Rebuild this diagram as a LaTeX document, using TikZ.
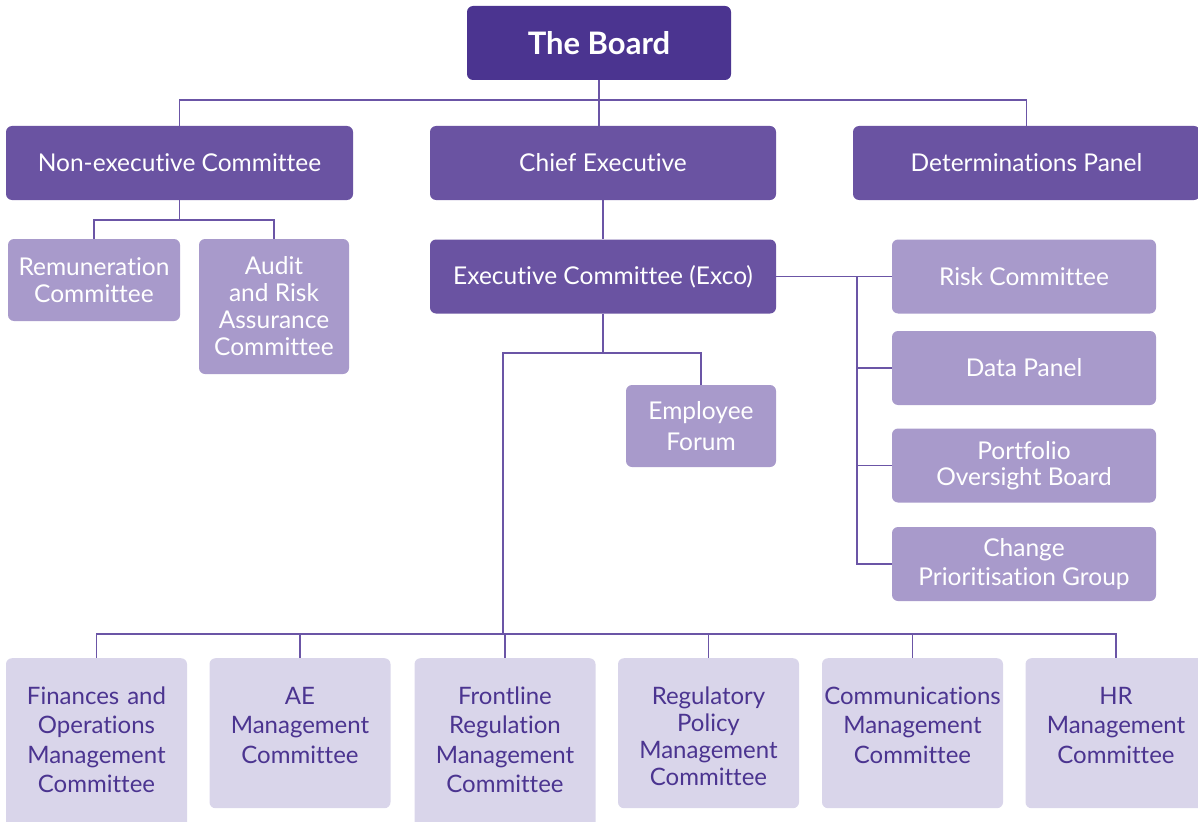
\documentclass[tikz,border=0pt]{standalone}
\usepackage{fontspec}
\setmainfont{Lato}[Ligatures=NoCommon]
\usetikzlibrary{calc}

\definecolor{boardpurple}{HTML}{4B3490}
\definecolor{midpurple}{HTML}{6A53A2}
\definecolor{lightpurple}{HTML}{A89ACB}
\definecolor{palepurple}{HTML}{D9D5EA}
\definecolor{linepurple}{HTML}{6B55A6}

\begin{document}
\begin{tikzpicture} [x=1pt, y=-1pt,
		% define styles
		boardnodestyle/.style={
			% The shape:
			rectangle,
			% The size:
			minimum width=264pt, minimum height=74pt,
			% The filling:
			fill=boardpurple,
			% Corners
			rounded corners=6pt,
			% Font
			text=white,
			font=\fontsize{31}{36}\selectfont\bfseries
		},
		topnodestyle/.style={
			% The shape:
			rectangle,
			% The size:
			minimum width=346pt, minimum height=74pt,
			% The filling:
			fill=midpurple,
			% Corners
			rounded corners=6pt,
			% Font
			text=white,
			font=\fontsize{24.5}{27}\selectfont
		},
		subnodestyle/.style={
			% The shape:
			rectangle,
			% The size:
			minimum height=74pt,
			inner sep=1pt,
			align=center,
			% The filling:
			fill=lightpurple,
			% Corners
			rounded corners=6pt,
			% Font
			text=white,
			font=\fontsize{24.5}{27}\selectfont
		},
		mgmtnodestyle/.style={
			% The shape:
			rectangle,
			anchor=north,
			% The size:
			minimum width=181pt,
			text width=181pt,
			inner sep=0pt,
			text height=46pt, % first line sits at the same height in every box
			text depth=104pt,
			align=center,
			% The filling:
			fill=palepurple,
			% Corners
			rounded corners=6pt,
			% Font
			text=boardpurple,
			font=\fontsize{24}{29.5}\selectfont
		},
		connector/.style={
			-,
			% Thickness
			line width=1.5pt,
			% Color
			linepurple
		}]
		% end of style definition

		\clip (0,0) rectangle (1198,821);

		% draw nodes
		\node (iBoard) [boardnodestyle] at (599,43) {The Board};

		\node (iNonExec) [topnodestyle, minimum width=347pt] at (179.5,163) {Non-executive Committee};
		\node (iChief) [topnodestyle] at (603,163) {Chief Executive};
		\node (iDeterm) [topnodestyle, minimum width=347pt] at (1026.5,163) {Determinations Panel};

		\node (iRemun) [subnodestyle, minimum width=172pt, minimum height=82pt] at (94,280) {Remuneration\\Committee};
		\node (iAudit) [subnodestyle, minimum width=150pt, minimum height=135pt] at (274,306.5) {Audit\\and Risk\\Assurance\\Committee};

		\node (iExco) [topnodestyle] at (603,276.5) {Executive Committee (Exco)};
		\node (iEmployee) [subnodestyle, minimum width=150pt, minimum height=82pt, font=\fontsize{24.5}{31}\selectfont] at (701,426) {Employee\\Forum};

		\node (iRisk) [subnodestyle, minimum width=264pt] at (1024,276.5) {Risk Committee};
		\node (iData) [subnodestyle, minimum width=264pt] at (1024,368) {Data Panel};
		\node (iPortfolio) [subnodestyle, minimum width=264pt, font=\fontsize{24.5}{26}\selectfont] at (1024,465.5) {Portfolio\\Oversight Board};
		\node (iChange) [subnodestyle, minimum width=264pt, font=\fontsize{24.5}{29}\selectfont] at (1024,564) {Change\\Prioritisation Group};

		\node (iFinance) [mgmtnodestyle, text depth=126pt] at (96.5,658) {Finances and\\Operations\\Management\\Committee};
		\node (iAE) [mgmtnodestyle] at (300,658) {AE\\Management\\Committee};
		\node (iFrontline) [mgmtnodestyle, text depth=126pt] at (505,658) {Frontline\\Regulation\\Management\\Committee};
		\node (iRegPolicy) [mgmtnodestyle, font=\fontsize{24}{27}\selectfont] at (708.5,658) {Regulatory\\Policy\\Management\\Committee};
		\node (iComms) [mgmtnodestyle] at (912.5,658) {Communications\\Management\\Committee};
		\node (iHR) [mgmtnodestyle] at (1116,658) {HR\\Management\\Committee};

		% bus points
		\coordinate (iBoardBus) at (599,100);
		\coordinate (iNonExecBus) at (179.5,220);
		\coordinate (iSideBus) at (857,276.5);
		\coordinate (iExcoBus) at (603,353);
		\coordinate (iMgmtBus) at (503,634);

		% connect nodes
		\draw [connector] (iBoard) -- (iBoard |- iChief.north);
		\draw [connector] (iNonExec.north) |- (iBoardBus) -| (iDeterm.north);

		\draw [connector] (iNonExec) -- (iNonExecBus);
		\draw [connector] (iRemun.north) |- (iNonExecBus) -| (iAudit.north);

		\draw [connector] (iChief) -- (iExco);
		\draw [connector] (iExco) -- (iRisk);
		\foreach \n in {iData, iPortfolio, iChange}
			\draw [connector] (iSideBus) |- (\n.west);

		\draw [connector] (iExco) -- (iExcoBus);
		\draw [connector] (iExcoBus) -| (iEmployee.north);
		\draw [connector] (iExcoBus) -| (iMgmtBus);
		\foreach \n in {iFinance, iAE, iFrontline, iRegPolicy, iComms, iHR}
			\draw [connector] (iMgmtBus) -| (\n.north);
	\end{tikzpicture}
\end{document}
